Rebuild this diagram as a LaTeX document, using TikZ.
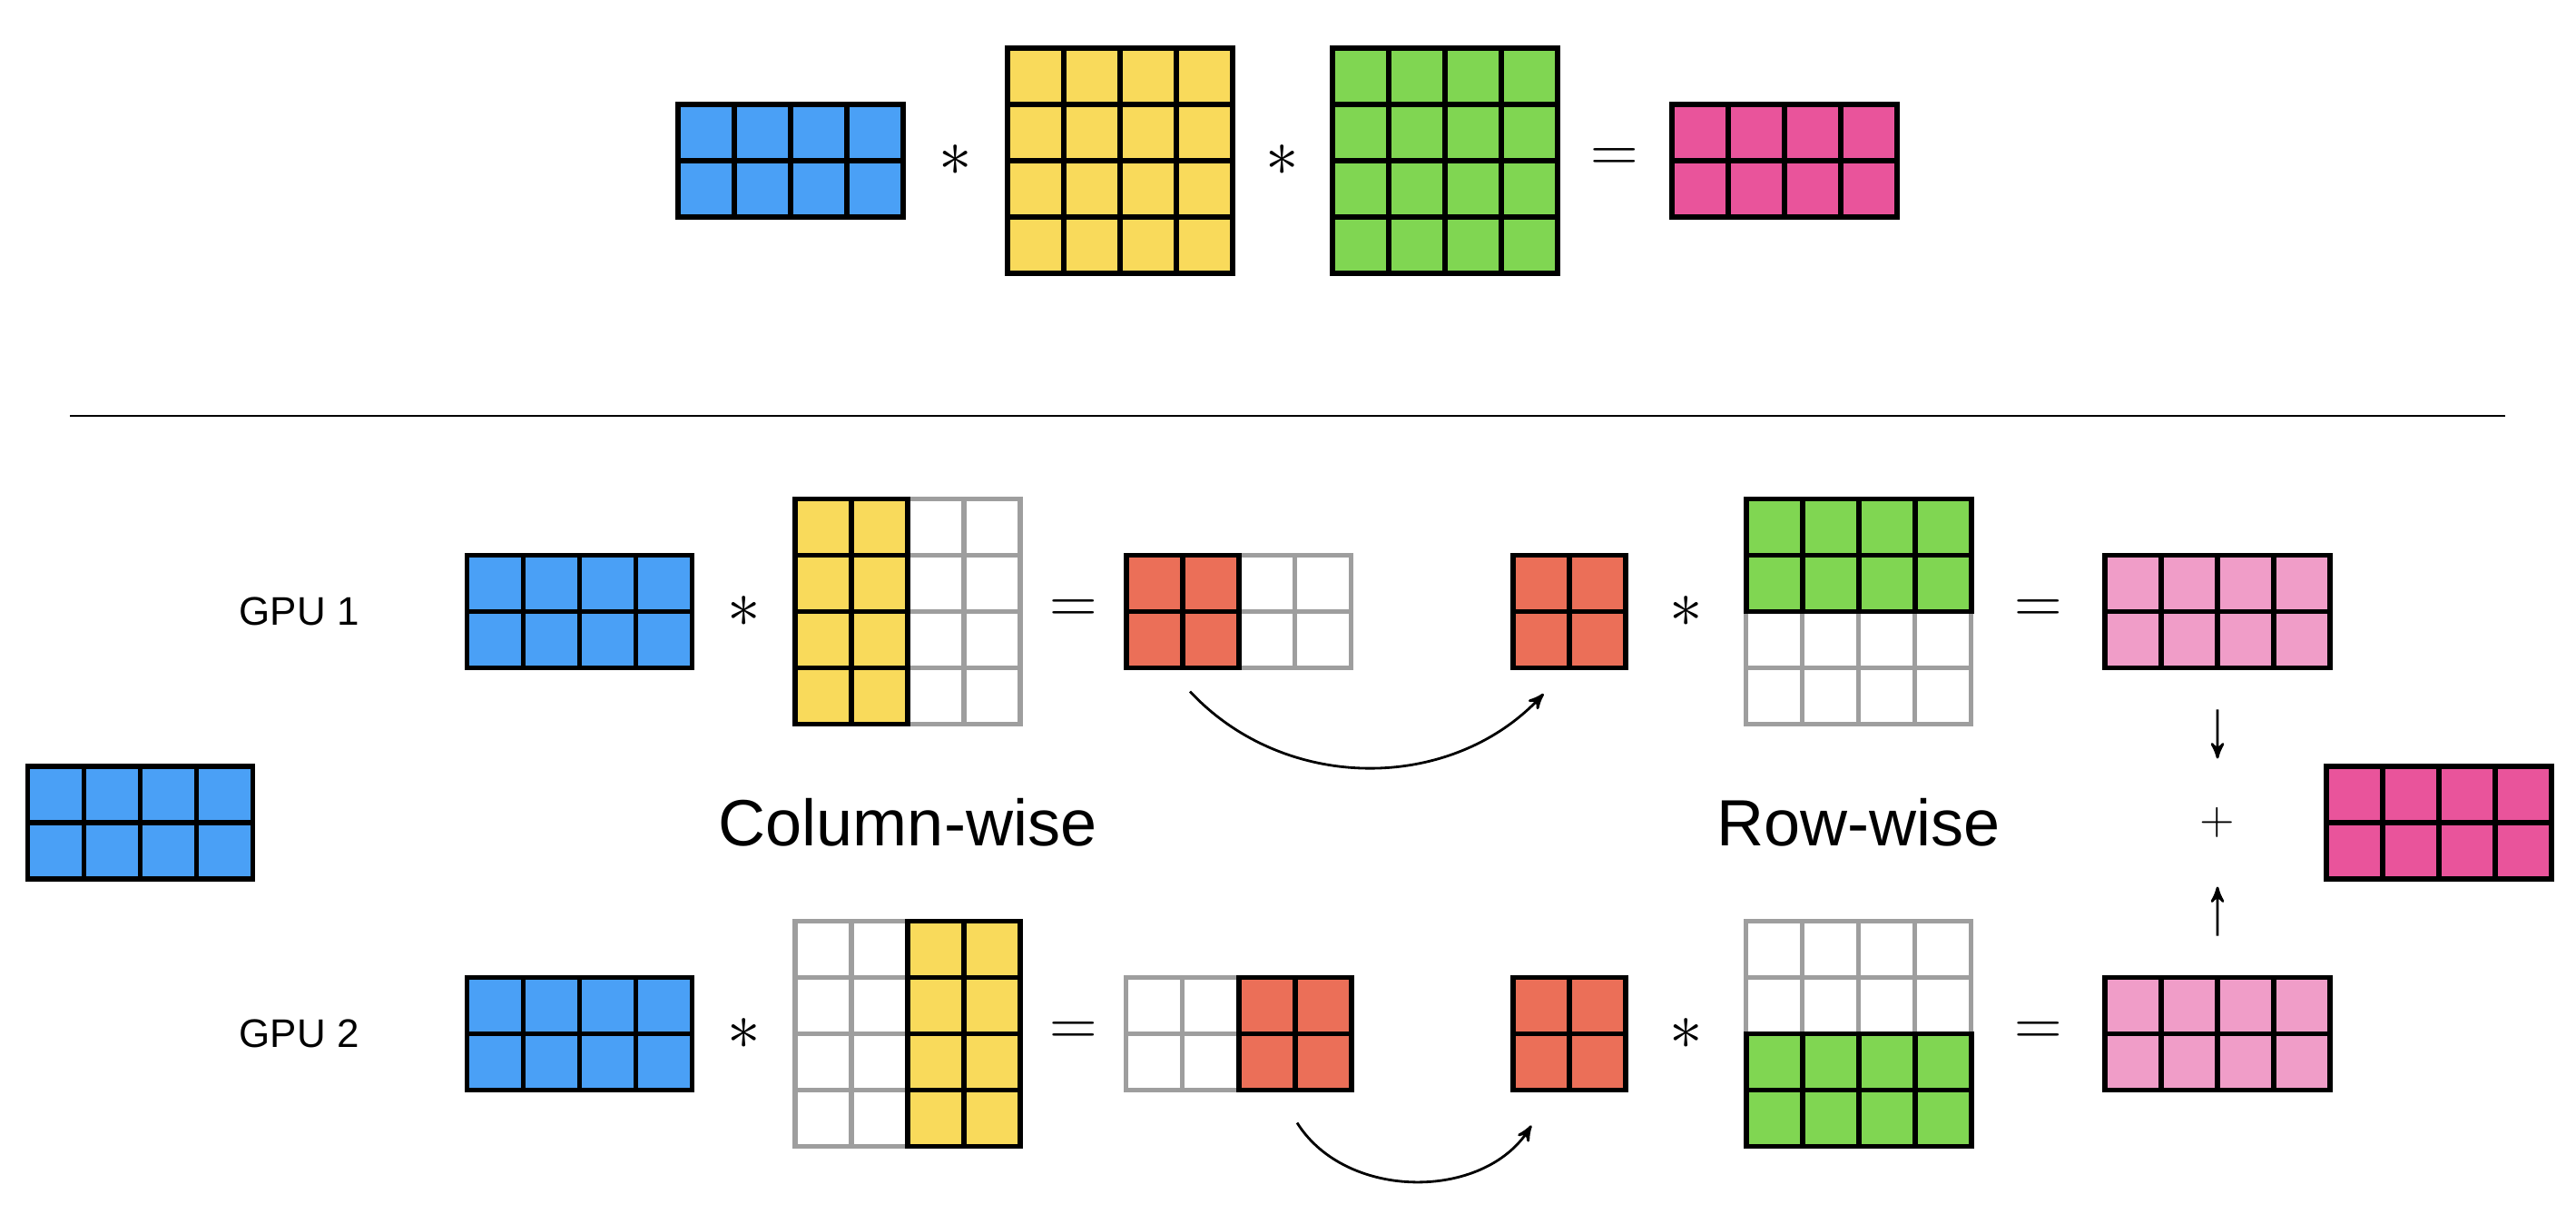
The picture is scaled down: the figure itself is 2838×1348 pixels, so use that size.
\documentclass[tikz,border=0pt]{standalone}
\usepackage{fontspec}
\setmainfont{Liberation Sans}
\usetikzlibrary{arrows,calc,positioning}

\definecolor{mblue}{RGB}{74,160,246}
\definecolor{myellow}{RGB}{249,218,91}
\definecolor{mgreen}{RGB}{128,214,82}
\definecolor{mpink}{RGB}{233,84,155}
\definecolor{lpink}{RGB}{240,157,200}
\definecolor{mred}{RGB}{235,111,88}
\definecolor{mgray}{RGB}{158,158,158}

% cells of a matrix node: node, first col, last col, first row, last row, style
\newcommand{\cells}[6]{%
  \foreach \i in {#2,...,#3}
    \foreach \j in {#4,...,#5}
      \draw[#6] ([shift={({(\i-1)*6.2mm},{(1-\j)*6.2mm})}]#1.north west) rectangle ++(6.2mm,-6.2mm);
}

\begin{document}
\begin{tikzpicture}[x=0.1mm,y=-0.1mm,>=stealth',semithick]
  \tikzstyle{every node}=[inner sep=0pt,outer sep=0pt]
  \tikzstyle{wide}=[minimum width=24.8mm,minimum height=12.4mm]
  \tikzstyle{tall}=[minimum width=24.8mm,minimum height=24.8mm]
  \tikzstyle{small}=[minimum width=12.4mm,minimum height=12.4mm]
  \tikzstyle{hot}=[draw=black,line width=1.7pt]
  \tikzstyle{cold}=[draw=mgray,line width=1.5pt,fill=white]
  \tikzstyle{op}=[font=\fontsize{22}{26}\selectfont]
  \tikzstyle{gpu}=[font=\fontsize{12.5}{15}\selectfont]
  \tikzstyle{title}=[font=\fontsize{20.5}{24}\selectfont]
  \tikzstyle{move}=[->,thick,shorten >=1pt]

  \useasboundingbox (0,0) rectangle (2838,1348);

  % full product
  \node[wide] (A) at (871,177)    {};
  \node[tall] (B) at (1234,177)   {};
  \node[tall] (C) at (1591.5,177) {};
  \node[wide] (D) at (1965.5,177) {};
  \cells{A}{1}{4}{1}{2}{hot,fill=mblue}
  \cells{B}{1}{4}{1}{4}{hot,fill=myellow}
  \cells{C}{1}{4}{1}{4}{hot,fill=mgreen}
  \cells{D}{1}{4}{1}{2}{hot,fill=mpink}
  \node[op] at ($(A.east)!0.5!(B.west)$) {$\ast$};
  \node[op] at ($(B.east)!0.5!(C.west)$) {$\ast$};
  \node[op] at ($(C.east)!0.5!(D.west)$) {$=$};

  \draw[line width=0.8pt] (77,458) -- (2760,458);

  % GPU 1
  \node[wide]  (a1) at (638.5,673.5)  {};
  \node[tall]  (b1) at (1000,673.5)   {};
  \node[wide]  (c1) at (1364.5,673.5) {};
  \node[small] (d1) at (1729,673.5)   {};
  \node[tall]  (e1) at (2047.5,673.5) {};
  \node[wide]  (f1) at (2443,673.5)   {};
  \node[gpu]   (g1) [left=11.9mm of a1] {GPU 1};
  \cells{a1}{1}{4}{1}{2}{hot,fill=mblue}
  \cells{b1}{3}{4}{1}{4}{cold}
  \cells{b1}{1}{2}{1}{4}{hot,fill=myellow}
  \cells{c1}{3}{4}{1}{2}{cold}
  \cells{c1}{1}{2}{1}{2}{hot,fill=mred}
  \cells{d1}{1}{2}{1}{2}{hot,fill=mred}
  \cells{e1}{1}{4}{3}{4}{cold}
  \cells{e1}{1}{4}{1}{2}{hot,fill=mgreen}
  \cells{f1}{1}{4}{1}{2}{hot,fill=lpink}
  \node[op] at ($(a1.east)!0.5!(b1.west)$) {$\ast$};
  \node[op] at ($(b1.east)!0.5!(c1.west)$) {$=$};
  \node[op] at ($(d1.east)!0.5!(e1.west)$) {$\ast$};
  \node[op] at ($(e1.east)!0.5!(f1.west)$) {$=$};

  % GPU 2
  \node[wide]  (a2) at (638.5,1138.5)  {};
  \node[tall]  (b2) at (1000,1138.5)   {};
  \node[wide]  (c2) at (1364.5,1138.5) {};
  \node[small] (d2) at (1729,1138.5)   {};
  \node[tall]  (e2) at (2047.5,1138.5) {};
  \node[wide]  (f2) at (2443,1138.5)   {};
  \node[gpu]   (g2) [left=11.9mm of a2] {GPU 2};
  \cells{a2}{1}{4}{1}{2}{hot,fill=mblue}
  \cells{b2}{1}{2}{1}{4}{cold}
  \cells{b2}{3}{4}{1}{4}{hot,fill=myellow}
  \cells{c2}{1}{2}{1}{2}{cold}
  \cells{c2}{3}{4}{1}{2}{hot,fill=mred}
  \cells{d2}{1}{2}{1}{2}{hot,fill=mred}
  \cells{e2}{1}{4}{1}{2}{cold}
  \cells{e2}{1}{4}{3}{4}{hot,fill=mgreen}
  \cells{f2}{1}{4}{1}{2}{hot,fill=lpink}
  \node[op] at ($(a2.east)!0.5!(b2.west)$) {$\ast$};
  \node[op] at ($(b2.east)!0.5!(c2.west)$) {$=$};
  \node[op] at ($(d2.east)!0.5!(e2.west)$) {$\ast$};
  \node[op] at ($(e2.east)!0.5!(f2.west)$) {$=$};

  % middle row
  \node[wide]  (x0)  at (154.5,906)  {};
  \node[wide]  (out) at (2686.5,906) {};
  \cells{x0}{1}{4}{1}{2}{hot,fill=mblue}
  \cells{out}{1}{4}{1}{2}{hot,fill=mpink}
  \node[title] (cw) at ($(b1)!0.5!(b2)$) {Column-wise};
  \node[title] (rw) at ($(e1)!0.5!(e2)$) {Row-wise};
  \node[font=\fontsize{15}{18}\selectfont,minimum height=13.4mm] (plus) at ($(f1)!0.5!(f2)$) {$+$};

  \path ([xshift=-5.35mm,yshift=-2.6mm]c1.south) edge[move,bend right=47] ([xshift=-2.6mm,yshift=-2.6mm]d1.south)
        ([xshift=6.45mm,yshift=-3.6mm]c2.south) edge[move,bend right=58] ([xshift=-4mm,yshift=-3.6mm]d2.south)
        (f1) edge[move,shorten <=4.6mm] (plus)
        (f2) edge[move,shorten <=4.6mm] (plus);
\end{tikzpicture}
\end{document}
